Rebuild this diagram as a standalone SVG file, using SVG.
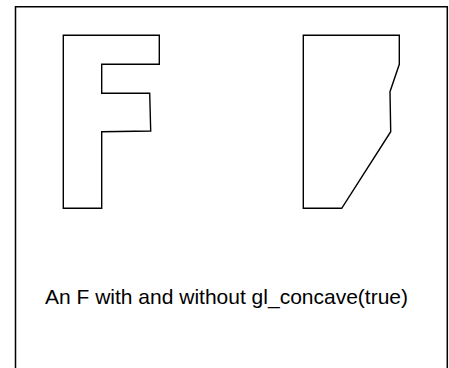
<svg xmlns="http://www.w3.org/2000/svg" width="449" height="368" viewBox="0 0 449 368">
<style>
.frame{fill:none;stroke:#000;stroke-width:1.5}
.shape{fill:#fff;stroke:#000;stroke-width:1.4;stroke-linejoin:miter}
.label{font-family:"Liberation Sans",Arial,sans-serif;font-size:21px;fill:#000}
</style>
<rect width="449" height="368" fill="#fff"/>
<path class="frame" d="M15.5,368 V6.8 H447.3 V368"/>
<g id="f-shape">
<polygon class="shape" points="63.3,35.3 159.3,35.3 159.3,64.3 101.7,64.3 101.7,93.3 149.7,93.3 150.7,131 101.7,131.7 101.7,208.3 63.3,208.3"/>
</g>
<g id="convex-shape">
<polygon class="shape" points="303.3,35.3 399.3,35.3 399.3,64.3 390,91.7 390.7,131.7 341.7,208.3 303.3,208.3"/>
</g>
<g id="connectors"></g>
<text class="label" x="45" y="304.3">An F with and without gl_concave(true)</text>
</svg>
